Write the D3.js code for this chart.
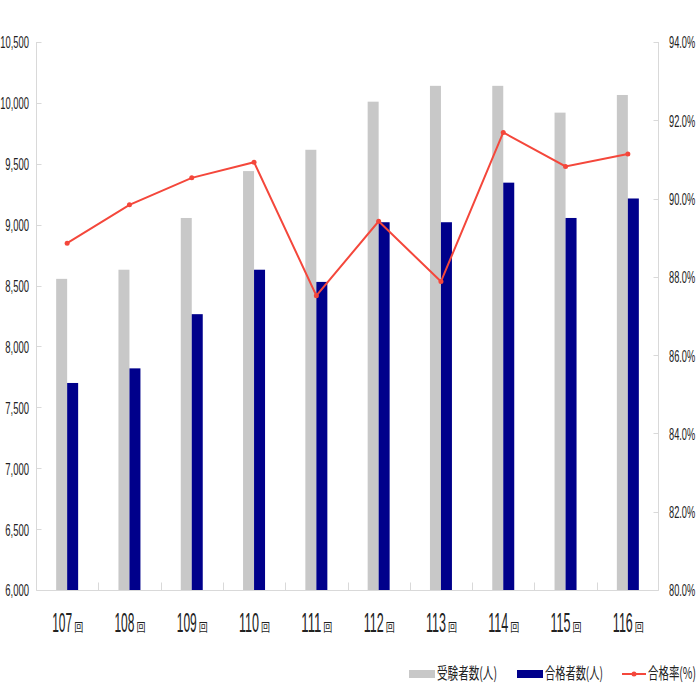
<!DOCTYPE html>
<html>
<head>
<meta charset="utf-8">
<script src="https://cdn.jsdelivr.net/npm/d3@7"></script>
<style>
  body { margin: 0; background: #fff; }
  text { fill: #222; }
</style>
</head>
<body>
<div class="chart"></div>
<script>
// data
const sessions = ['107', '108', '109', '110', '111', '112', '113', '114', '115', '116']
const examinees = [8555, 8630, 9055, 9440, 9615, 10010, 10140, 10140, 9920, 10065]
const passers = [7700, 7820, 8265, 8630, 8530, 9020, 9020, 9345, 9055, 9215]
const passRate = [88.86, 89.84, 90.53, 90.93, 87.52, 89.42, 87.88, 91.69, 90.82, 91.14]
const leftTicks = [6000, 6500, 7000, 7500, 8000, 8500, 9000, 9500, 10000, 10500]
const rightTicks = [80, 82, 84, 86, 88, 90, 92, 94]

const width = 700
const height = 700
const margin = {top: 42, right: 41, bottom: 110, left: 36}

const gray = '#c8c8c8'
const navy = '#00008b'
const red = '#f4473b'
const axisColor = '#d9d9d9'
const numFont = '"Liberation Sans", "DejaVu Sans", Arial, sans-serif'
const cjkFont = '"Noto Sans CJK JP", "Noto Sans CJK TC", sans-serif'

const svg = d3.select('.chart')
  .append('svg')
  .attr('width', width)
  .attr('height', height)

const x0 = d3.scaleBand()
  .domain(sessions)
  .range([margin.left, width - margin.right])
  .paddingInner(0.647)
  .paddingOuter(0.3235)

const x1 = d3.scaleBand()
  .domain(['examinees', 'passers'])
  .range([0, x0.bandwidth()])

const yLeft = d3.scaleLinear()
  .domain([6000, 10500])
  .range([height - margin.bottom, margin.top])

const yRight = d3.scaleLinear()
  .domain([80, 94])
  .range([height - margin.bottom, margin.top])

// rough widths so the narrow numerals match whatever font is found
function numWidth(s, digit) {
  let w = 0
  for (const ch of s) {
    if (ch === ',' || ch === '.') w += digit * 0.75
    else if (ch === '%') w += digit * 1.5
    else w += digit
  }
  return w
}

// axes lines
const axes = svg.append('g').attr('class', 'axes')
  .attr('stroke', axisColor)
  .attr('stroke-width', 1)

const x0L = margin.left + 0.5
const x0R = width - margin.right - 0.5
const yB = height - margin.bottom + 0.5

axes.append('line').attr('x1', x0L).attr('x2', x0L).attr('y1', margin.top).attr('y2', yB)
axes.append('line').attr('x1', x0R).attr('x2', x0R).attr('y1', margin.top).attr('y2', yB)
axes.append('line').attr('x1', x0L).attr('x2', x0R).attr('y1', yB).attr('y2', yB)

axes.selectAll('.tick-l')
  .data(leftTicks)
  .enter().append('line')
    .attr('x1', x0L).attr('x2', x0L + 5)
    .attr('y1', d => Math.round(yLeft(d)) + 0.5)
    .attr('y2', d => Math.round(yLeft(d)) + 0.5)

axes.selectAll('.tick-r')
  .data(rightTicks)
  .enter().append('line')
    .attr('x1', x0R - 5).attr('x2', x0R)
    .attr('y1', d => Math.round(yRight(d)) + 0.5)
    .attr('y2', d => Math.round(yRight(d)) + 0.5)

// category separators on the bottom axis
axes.selectAll('.tick-b')
  .data(sessions.slice(1))
  .enter().append('line')
    .attr('x1', d => Math.round(x0(d) - x0.step() * x0.paddingInner() / 2) + 0.5)
    .attr('x2', d => Math.round(x0(d) - x0.step() * x0.paddingInner() / 2) + 0.5)
    .attr('y1', yB - 8).attr('y2', yB)

// tick labels
const fmt = d3.format(',')
svg.append('g')
  .selectAll('text')
  .data(leftTicks)
  .enter().append('text')
    .attr('x', 29)
    .attr('y', d => yLeft(d) + 2)
    .attr('text-anchor', 'end')
    .attr('dominant-baseline', 'middle')
    .style('font-family', numFont)
    .style('font-size', '17px')
    .attr('textLength', d => numWidth(fmt(d), 5))
    .attr('lengthAdjust', 'spacingAndGlyphs')
    .text(d => fmt(d))

svg.append('g')
  .selectAll('text')
  .data(rightTicks)
  .enter().append('text')
    .attr('x', 669)
    .attr('y', d => yRight(d) + 2)
    .attr('text-anchor', 'start')
    .attr('dominant-baseline', 'middle')
    .style('font-family', numFont)
    .style('font-size', '17px')
    .attr('textLength', d => numWidth(d.toFixed(1) + '%', 5))
    .attr('lengthAdjust', 'spacingAndGlyphs')
    .text(d => d.toFixed(1) + '%')

// x labels: big number + small 回
const xl = svg.append('g').attr('class', 'x-labels')
  .selectAll('g')
  .data(sessions)
  .enter().append('g')
    .attr('transform', d => 'translate(' + (x0(d) + x0.bandwidth() / 2) + ',632)')

xl.append('text')
  .attr('x', -15)
  .attr('y', 0)
  .style('font-family', numFont)
  .style('font-size', '27px')
  .attr('textLength', 20)
  .attr('lengthAdjust', 'spacingAndGlyphs')
  .text(d => d)

xl.append('text')
  .attr('x', 7)
  .attr('y', 0)
  .style('font-family', cjkFont)
  .style('font-size', '12px')
  .attr('textLength', 9)
  .attr('lengthAdjust', 'spacingAndGlyphs')
  .text('回')

// bars
const rows = sessions.map((s, i) => ({s, examinees: examinees[i], passers: passers[i], rate: passRate[i]}))

const groups = svg.append('g').attr('class', 'bars')
  .selectAll('g')
  .data(rows)
  .enter().append('g')
    .attr('transform', d => 'translate(' + x0(d.s) + ',0)')

groups.append('rect')
  .attr('x', x1('examinees'))
  .attr('width', x1.bandwidth())
  .attr('y', d => yLeft(d.examinees))
  .attr('height', d => yLeft(6000) - yLeft(d.examinees))
  .attr('fill', gray)

groups.append('rect')
  .attr('x', x1('passers'))
  .attr('width', x1.bandwidth())
  .attr('y', d => yLeft(d.passers))
  .attr('height', d => yLeft(6000) - yLeft(d.passers))
  .attr('fill', navy)

// pass rate line
const lineX = d => x0(d.s) + x0.bandwidth() / 2
const line = d3.line()
  .x(lineX)
  .y(d => yRight(d.rate))

svg.append('path')
  .datum(rows)
  .attr('d', line)
  .attr('fill', 'none')
  .attr('stroke', red)
  .attr('stroke-width', 2)

svg.append('g')
  .selectAll('circle')
  .data(rows)
  .enter().append('circle')
    .attr('cx', lineX)
    .attr('cy', d => yRight(d.rate))
    .attr('r', 2.5)
    .attr('fill', red)

// legend
const legendItems = [
  {label: '受験者数(人)', color: gray, type: 'rect', x: 409, tx: 437, tw: 60},
  {label: '合格者数(人)', color: navy, type: 'rect', x: 517, tx: 545, tw: 58},
  {label: '合格率(%)', color: red, type: 'line', x: 622, tx: 648, tw: 48}
]

const legend = svg.append('g').attr('class', 'legend')
  .selectAll('g')
  .data(legendItems)
  .enter().append('g')

legend.filter(d => d.type === 'rect')
  .append('rect')
    .attr('x', d => d.x)
    .attr('y', 670)
    .attr('width', 26)
    .attr('height', 8)
    .attr('fill', d => d.color)

const lineLegend = legend.filter(d => d.type === 'line')
lineLegend.append('line')
  .attr('x1', d => d.x).attr('x2', d => d.x + 24)
  .attr('y1', 674).attr('y2', 674)
  .attr('stroke', d => d.color)
  .attr('stroke-width', 2)
lineLegend.append('circle')
  .attr('cx', d => d.x + 12)
  .attr('cy', 674)
  .attr('r', 2.5)
  .attr('fill', d => d.color)

legend.append('text')
  .attr('x', d => d.tx)
  .attr('y', 675)
  .attr('dominant-baseline', 'middle')
  .style('font-family', cjkFont)
  .style('font-size', '16px')
  .attr('textLength', d => d.tw)
  .attr('lengthAdjust', 'spacingAndGlyphs')
  .text(d => d.label)
</script>
</body>
</html>
